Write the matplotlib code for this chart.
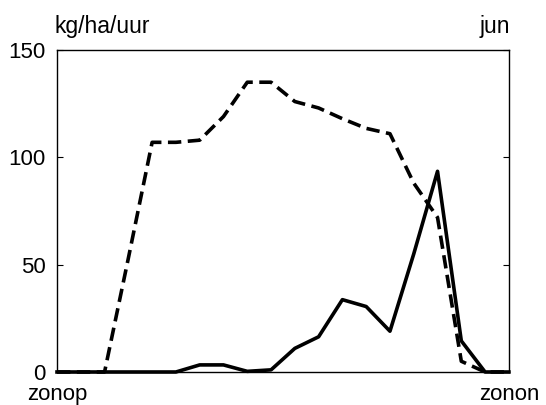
import matplotlib

matplotlib.use("Agg")
import matplotlib.pyplot as plt
import numpy as np

plt.rcParams["font.family"] = ["Liberation Sans", "DejaVu Sans"]

# uurwaarden tussen zonop en zonon (20 tijdstappen)
uren = np.arange(20)
stippel = [0, 0, 0, 53, 107, 107, 108, 119, 135, 135,
           126, 123, 118, 113.5, 111, 88, 72, 5, 0, 0]
doorgetrokken = [0, 0, 0, 0, 0, 0, 3.3, 3.3, 0.3, 1,
                 11, 16.4, 33.7, 30.5, 19, 55, 93.5, 14.5, 0, 0]
y_ticks = [0, 50, 100, 150]
x_labels = ["zonop", "zonon"]

fig = plt.figure(figsize=(5.46, 4.05), dpi=100)
ax = fig.add_axes([0.1044, 0.0815, 0.8276, 0.795])

ax.plot(uren, stippel, color="black", lw=2.6,
        linestyle=(0, (3.7, 1.8)), clip_on=False)
ax.plot(uren, doorgetrokken, color="black", lw=2.6, clip_on=False)

ax.set_xlim(0, 19)
ax.set_ylim(0, 150)
ax.set_yticks(y_ticks)
ax.set_xticks([0, 19])
ax.set_xticklabels(x_labels)
ax.tick_params(axis="y", direction="in", right=True, length=4, width=0.8,
               labelsize=16, pad=8)
ax.tick_params(axis="x", length=0, labelsize=16, pad=9)
for sp in ax.spines.values():
    sp.set_linewidth(1.0)

fig.text(0.1, 0.918, "kg/ha/uur", fontsize=16.5, ha="left", va="baseline")
fig.text(0.934, 0.918, "jun", fontsize=16.5, ha="right", va="baseline")

fig.savefig("out.png", dpi=100)
